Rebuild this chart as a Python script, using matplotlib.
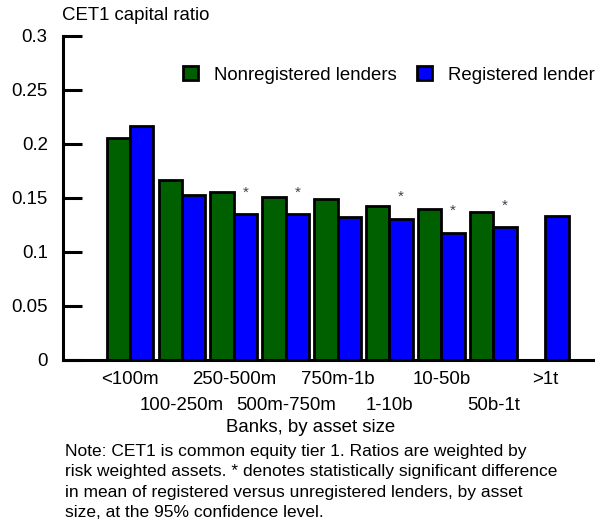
import matplotlib
matplotlib.use("Agg")
from matplotlib import pyplot as plt
import numpy as np

plt.rcParams['font.family'] = ['Liberation Sans', 'DejaVu Sans']

sizes = ['<100m', '100-250m', '250-500m', '500m-750m', '750m-1b',
         '1-10b', '10-50b', '50b-1t', '>1t']
nonregistered = [0.206, 0.167, 0.156, 0.151, 0.149, 0.143, 0.140, 0.137, np.nan]
registered = [0.217, 0.153, 0.135, 0.135, 0.132, 0.131, 0.118, 0.123, 0.133]
significant = [False, False, True, True, False, True, True, True, False]

note = ("Note: CET1 is common equity tier 1. Ratios are weighted by\n"
        "risk weighted assets. * denotes statistically significant difference\n"
        "in mean of registered versus unregistered lenders, by asset\n"
        "size, at the 95% confidence level.")

green = '#006000'
blue = '#0000ff'
fs = 13.4

fig = plt.figure(figsize=(5.95, 5.29), dpi=100)
ax = fig.add_axes([63/595, 1 - 360/529, 1 - 63/595, 324/529])

x = np.arange(len(sizes))
w = 0.45
ax.bar(x - w/2, nonregistered, w, color=green, edgecolor='black', linewidth=2,
       label='Nonregistered lenders')
ax.bar(x + w/2, registered, w, color=blue, edgecolor='black', linewidth=2,
       label='Registered lenders')

# stars mark significant differences
for i, sig in enumerate(significant):
    if sig:
        ax.text(x[i] + w/2, registered[i] + 0.02, '*', ha='center', va='center',
                fontsize=11, color='#404050')

ax.set_xlim(-1.29, 8.96)
ax.set_ylim(0, 0.3)
ax.set_yticks(np.arange(0, 0.31, 0.05))
ax.set_yticklabels(['0', '0.05', '0.1', '0.15', '0.2', '0.25', '0.3'])
ax.set_xticks([])
ax.tick_params(axis='y', direction='in', length=14, width=2.2, labelsize=fs, pad=11)
for s in ['top', 'right']:
    ax.spines[s].set_visible(False)
ax.spines['left'].set_linewidth(2.2)
ax.spines['bottom'].set_linewidth(2.2)

for i, lab in enumerate(sizes):
    yy = -0.0176 if i % 2 == 0 else -0.0417
    ax.text(x[i], yy, lab, ha='center', va='center', fontsize=fs, clip_on=False)

fig.text(311/595, 1 - 428/529, 'Banks, by asset size', ha='center', va='center', fontsize=fs)
fig.text(62/595, 1 - 15/529, 'CET1 capital ratio', ha='left', va='center', fontsize=fs)
fig.text(65/595, 1 - 444/529, note, ha='left', va='top', fontsize=12.5, linespacing=1.45)

ax.legend(loc='center left', bbox_to_anchor=(183/595, 1 - 75/529),
          bbox_transform=fig.transFigure, ncol=2, frameon=False, fontsize=fs,
          handlelength=0.8, handleheight=0.75, handletextpad=0.85,
          columnspacing=1.1, borderpad=0, borderaxespad=0)

fig.savefig('out.png', dpi=100)
